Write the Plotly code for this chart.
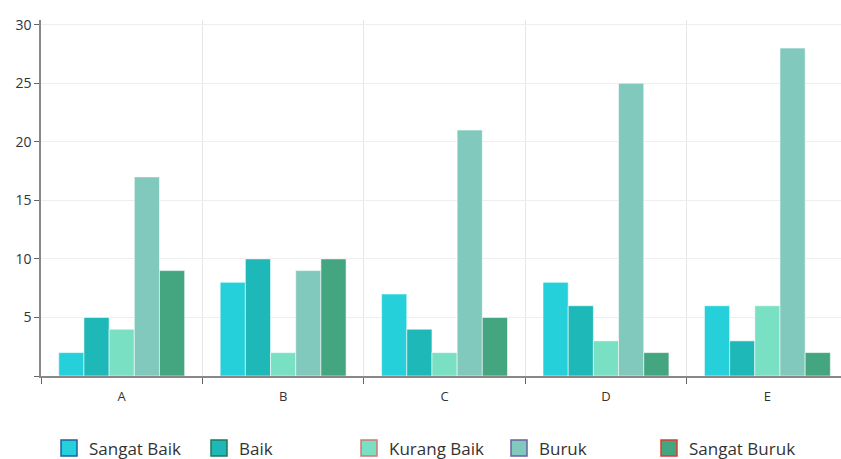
import plotly.graph_objects as go

categories = ["A", "B", "C", "D", "E"]
series_names = ["Sangat Baik", "Baik", "Kurang Baik", "Buruk", "Sangat Buruk"]
sangat_baik = [2, 8, 7, 8, 6]
baik = [5, 10, 4, 6, 3]
kurang_baik = [4, 2, 2, 3, 6]
buruk = [17, 9, 21, 25, 28]
sangat_buruk = [9, 10, 5, 2, 2]
y_ticks = [0, 5, 10, 15, 20, 25, 30]

values = [sangat_baik, baik, kurang_baik, buruk, sangat_buruk]
colors = ["#26D0DA", "#1FB8B8", "#7AE0C3", "#80C9BC", "#43A680"]
legend_borders = ["#1F5FA0", "#1E7A55", "#D07A70", "#6A60A0", "#E03A30"]

fig = go.Figure()
for name, vals, col in zip(series_names, values, colors):
    fig.add_trace(go.Bar(
        x=categories, y=vals, name=name, showlegend=False,
        marker=dict(color=col, line=dict(color="rgba(255,255,255,0.55)", width=1)),
    ))

# legend-only entries (square markers)
for name, col, bc in zip(series_names, colors, legend_borders):
    fig.add_trace(go.Scatter(
        x=[None], y=[None], name=name, mode="markers",
        marker=dict(symbol="square", size=20, color=col, line=dict(color=bc, width=1.5)),
    ))

fig.update_layout(
    width=841, height=459,
    margin=dict(l=41, r=0, t=20, b=83, autoexpand=False),
    paper_bgcolor="white", plot_bgcolor="white",
    barmode="group", bargap=0.22, bargroupgap=0,
    font=dict(family="Open Sans", color="#333333", size=13),
    xaxis=dict(
        type="category", range=[-0.5, 4.456],
        showgrid=True, gridcolor="#e6e6e6", gridwidth=1,
        tickson="boundaries", ticks="outside", ticklen=6, tickcolor="#666666",
        showline=True, linecolor="#888888", linewidth=1.5,
        tickfont=dict(size=13, color="#333333"),
        ticklabelstandoff=8,
    ),
    yaxis=dict(
        range=[0, 30.4], tickvals=y_ticks, ticktext=[str(v) if v else "" for v in y_ticks],
        showgrid=True, gridcolor="#eeeeee", gridwidth=1,
        ticks="outside", ticklen=5, tickcolor="#666666",
        showline=True, linecolor="#888888", linewidth=1.5,
        zeroline=False,
        tickfont=dict(size=14, color="#333333"),
    ),
    legend=dict(
        orientation="h", x=0.01, xanchor="left", y=-0.153, yanchor="top",
        entrywidth=105, entrywidthmode="pixels",
        font=dict(size=17, color="#333333"),
        itemwidth=30,
        tracegroupgap=0,
    ),
)

fig.write_html("out.html")
